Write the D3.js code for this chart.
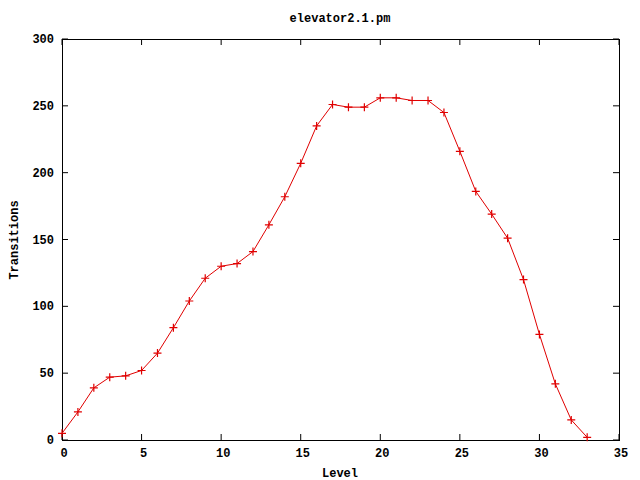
<!DOCTYPE html>
<html><head><meta charset="utf-8">
<script src="https://cdn.jsdelivr.net/npm/d3@7"></script>
<style>body{margin:0;background:#fff}svg{display:block}text{font-family:"Liberation Mono","DejaVu Sans Mono",monospace;font-weight:bold;font-size:12px;fill:#000}</style>
</head><body><svg id="c" width="640" height="480"></svg>
<script>
const title = "elevator2.1.pm";
const xLabel = "Level";
const yLabel = "Transitions";
const levels = [0,1,2,3,4,5,6,7,8,9,10,11,12,13,14,15,16,17,18,19,20,21,22,23,24,25,26,27,28,29,30,31,32,33];
const transitions = [5,21,39,47,48,52,65,84,104,121,130,132,141,161,182,207,235,251,249,249,256,256,254,254,245,216,186,169,151,120,79,42,15,2];
const xTicks = [0,5,10,15,20,25,30,35];
const yTicks = [0,50,100,150,200,250,300];

const svg = d3.select("#c");
const L = 62, R = 619, T = 39, B = 440;
const x = d3.scaleLinear().domain([0,35]).range([L,R]);
const y = d3.scaleLinear().domain([0,300]).range([B,T]);
const tl = 6;

const g = svg.append("g");
xTicks.forEach(v => {
  g.append("line").attr("x1",x(v)).attr("x2",x(v)).attr("y1",B).attr("y2",B-tl).attr("stroke","#000");
  g.append("line").attr("x1",x(v)).attr("x2",x(v)).attr("y1",T).attr("y2",T+tl).attr("stroke","#000");
  g.append("text").attr("x",x(v)+2).attr("y",B+17).attr("text-anchor","middle").text(v);
});
yTicks.forEach(v => {
  g.append("line").attr("x1",L).attr("x2",L+tl).attr("y1",y(v)).attr("y2",y(v)).attr("stroke","#000");
  g.append("line").attr("x1",R).attr("x2",R-tl).attr("y1",y(v)).attr("y2",y(v)).attr("stroke","#000");
  g.append("text").attr("x",L-8).attr("y",y(v)+4).attr("text-anchor","end").text(v);
});
g.append("rect").attr("x",L+0.5).attr("y",T+0.5).attr("width",R-L).attr("height",B-T).attr("fill","none").attr("stroke","#000");

const data = levels.map((l,i)=>[l,transitions[i]]);
svg.append("path").datum(data)
  .attr("d", d3.line().x(d=>x(d[0])).y(d=>y(d[1])))
  .attr("fill","none").attr("stroke","#e00000").attr("stroke-width",1);
const s = 4;
svg.append("g").selectAll("path.m").data(data).join("path")
  .attr("d", d => `M${x(d[0])-s},${y(d[1])}H${x(d[0])+s}M${x(d[0])},${y(d[1])-s}V${y(d[1])+s}`)
  .attr("stroke","#e00000").attr("stroke-width",1.2).attr("fill","none");

svg.append("text").attr("x",340).attr("y",22).attr("text-anchor","middle").text(title);
svg.append("text").attr("x",340).attr("y",477).attr("text-anchor","middle").text(xLabel);
svg.append("text").attr("transform","translate(18,240) rotate(-90)").attr("text-anchor","middle").text(yLabel);
</script></body></html>
